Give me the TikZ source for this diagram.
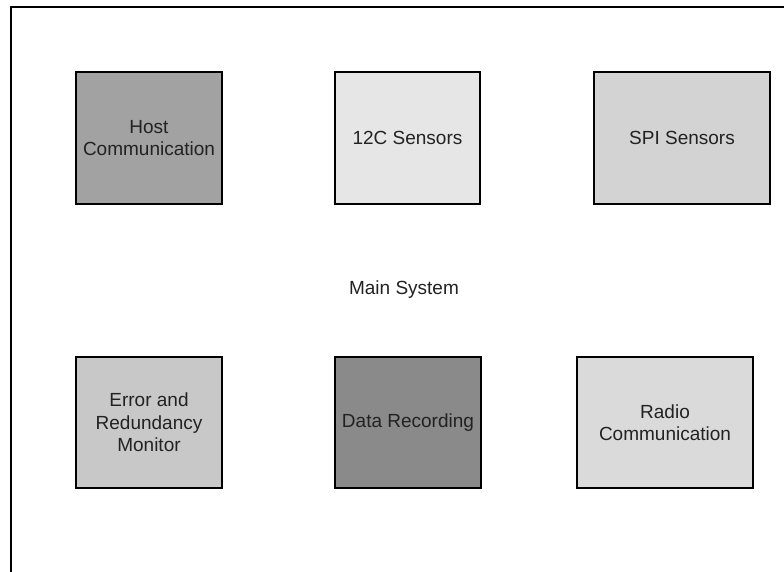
\documentclass[tikz,border=0pt]{standalone}
\usepackage{fontspec}
\setmainfont{Liberation Sans}
\definecolor{txt}{HTML}{222222}
\definecolor{cHost}{HTML}{A2A2A2}
\definecolor{cI2C}{HTML}{E6E6E6}
\definecolor{cSPI}{HTML}{D3D3D3}
\definecolor{cErr}{HTML}{C8C8C8}
\definecolor{cData}{HTML}{8A8A8A}
\definecolor{cRadio}{HTML}{DADADA}
\tikzset{
  block/.style={draw=black, line width=1.8pt, inner sep=0pt, align=center,
    text=txt, font=\fontsize{19}{22.5}\selectfont},
  label/.style={text=txt, font=\fontsize{19}{22.5}\selectfont, inner sep=0pt}
}
\begin{document}
\begin{tikzpicture}[x=1pt,y=-1pt]
\useasboundingbox (0,0) rectangle (784,572);
\clip (0,0) rectangle (784,572);
\fill[white] (0,0) rectangle (784,572);
\draw[line width=2pt, black] (11,7) rectangle (820,620);
\node[block, fill=cHost, minimum width=146pt, minimum height=132pt] (host) at (149,138) {Host\\Communication};
\node[block, fill=cI2C, minimum width=145pt, minimum height=132pt] (i2c) at (407.5,138) {12C Sensors};
\node[block, fill=cSPI, minimum width=176pt, minimum height=132pt] (spi) at (682,138) {SPI Sensors};
\node[label] (main) at (404,290) {Main System};
\node[block, fill=cErr, minimum width=146pt, minimum height=131pt] (err) at (149,422.5) {Error and\\Redundancy\\Monitor};
\node[block, fill=cData, minimum width=146pt, minimum height=131pt] (data) at (408,422.5) {Data Recording};
\node[block, fill=cRadio, minimum width=176pt, minimum height=131pt] (radio) at (665,422.5) {Radio\\Communication};
\end{tikzpicture}
\end{document}
